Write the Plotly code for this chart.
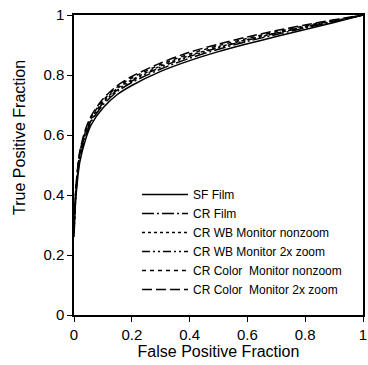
import plotly.graph_objects as go

fpf = [0, 0.005, 0.01, 0.02, 0.04, 0.06, 0.1, 0.15, 0.2, 0.3, 0.4, 0.5, 0.6, 0.7, 0.8, 0.9, 1.0]

sf_film = [0.26, 0.37, 0.43, 0.51, 0.585, 0.635, 0.69, 0.735, 0.765, 0.812, 0.848, 0.878, 0.904, 0.928, 0.952, 0.975, 1.0]
cr_film = [0.27, 0.38, 0.44, 0.52, 0.595, 0.645, 0.70, 0.745, 0.775, 0.82, 0.856, 0.886, 0.912, 0.935, 0.957, 0.978, 1.0]
cr_wb_nonzoom = [0.28, 0.39, 0.455, 0.535, 0.61, 0.655, 0.71, 0.755, 0.784, 0.83, 0.865, 0.893, 0.918, 0.94, 0.961, 0.98, 1.0]
cr_wb_2x = [0.28, 0.385, 0.45, 0.53, 0.605, 0.65, 0.706, 0.75, 0.78, 0.826, 0.862, 0.891, 0.916, 0.939, 0.96, 0.98, 1.0]
cr_color_nonzoom = [0.29, 0.40, 0.46, 0.54, 0.615, 0.66, 0.715, 0.76, 0.79, 0.835, 0.87, 0.898, 0.922, 0.944, 0.964, 0.982, 1.0]
cr_color_2x = [0.29, 0.40, 0.465, 0.545, 0.62, 0.665, 0.72, 0.765, 0.795, 0.84, 0.876, 0.903, 0.927, 0.948, 0.967, 0.984, 1.0]

names = ["SF Film", "CR Film", "CR WB Monitor nonzoom", "CR WB Monitor 2x zoom",
         "CR Color  Monitor nonzoom", "CR Color  Monitor 2x zoom"]
series = [sf_film, cr_film, cr_wb_nonzoom, cr_wb_2x, cr_color_nonzoom, cr_color_2x]
dashes = ["solid", "12px,3px,2px,3px", "dot", "8px,3px,2px,3px,2px,3px", "4px,4px", "10px,4px"]

tick_vals = [0, 0.2, 0.4, 0.6, 0.8, 1]
tick_text = ["0", "0.2", "0.4", "0.6", "0.8", "1"]

fig = go.Figure()
for nm, ys, ds in zip(names, series, dashes):
    fig.add_trace(go.Scatter(x=fpf, y=ys, mode="lines", name=nm,
                             line=dict(color="black", width=1.5, dash=ds, shape="spline", smoothing=0.8)))

font = "Liberation Sans, Arial, sans-serif"
axis_common = dict(range=[0, 1], showgrid=False, zeroline=False, showline=True, linecolor="black",
                   linewidth=1.5, mirror=True, ticks="outside", ticklen=5, tickcolor="black",
                   tickvals=tick_vals, ticktext=tick_text, ticklabeloverflow="allow",
                   tickfont=dict(family=font, size=15, color="black"))

fig.update_layout(
    width=368, height=365,
    margin=dict(l=74, r=1, t=15, b=50),
    paper_bgcolor="white", plot_bgcolor="white",
    font=dict(family=font, color="black"),
    xaxis=dict(**axis_common, title=dict(text="False Positive Fraction", font=dict(size=16), standoff=4)),
    yaxis=dict(**axis_common),
    legend=dict(x=0.218, y=0.45, xanchor="left", yanchor="top", bgcolor="rgba(0,0,0,0)",
                font=dict(size=12, family=font), itemwidth=46, tracegroupgap=0),
    annotations=[dict(text="True Positive Fraction", x=-0.191, y=0.593, xref="paper", yref="paper",
                      textangle=-90, showarrow=False, font=dict(size=16, family=font),
                      xanchor="center", yanchor="middle")],
)

fig.write_html("out.html")
